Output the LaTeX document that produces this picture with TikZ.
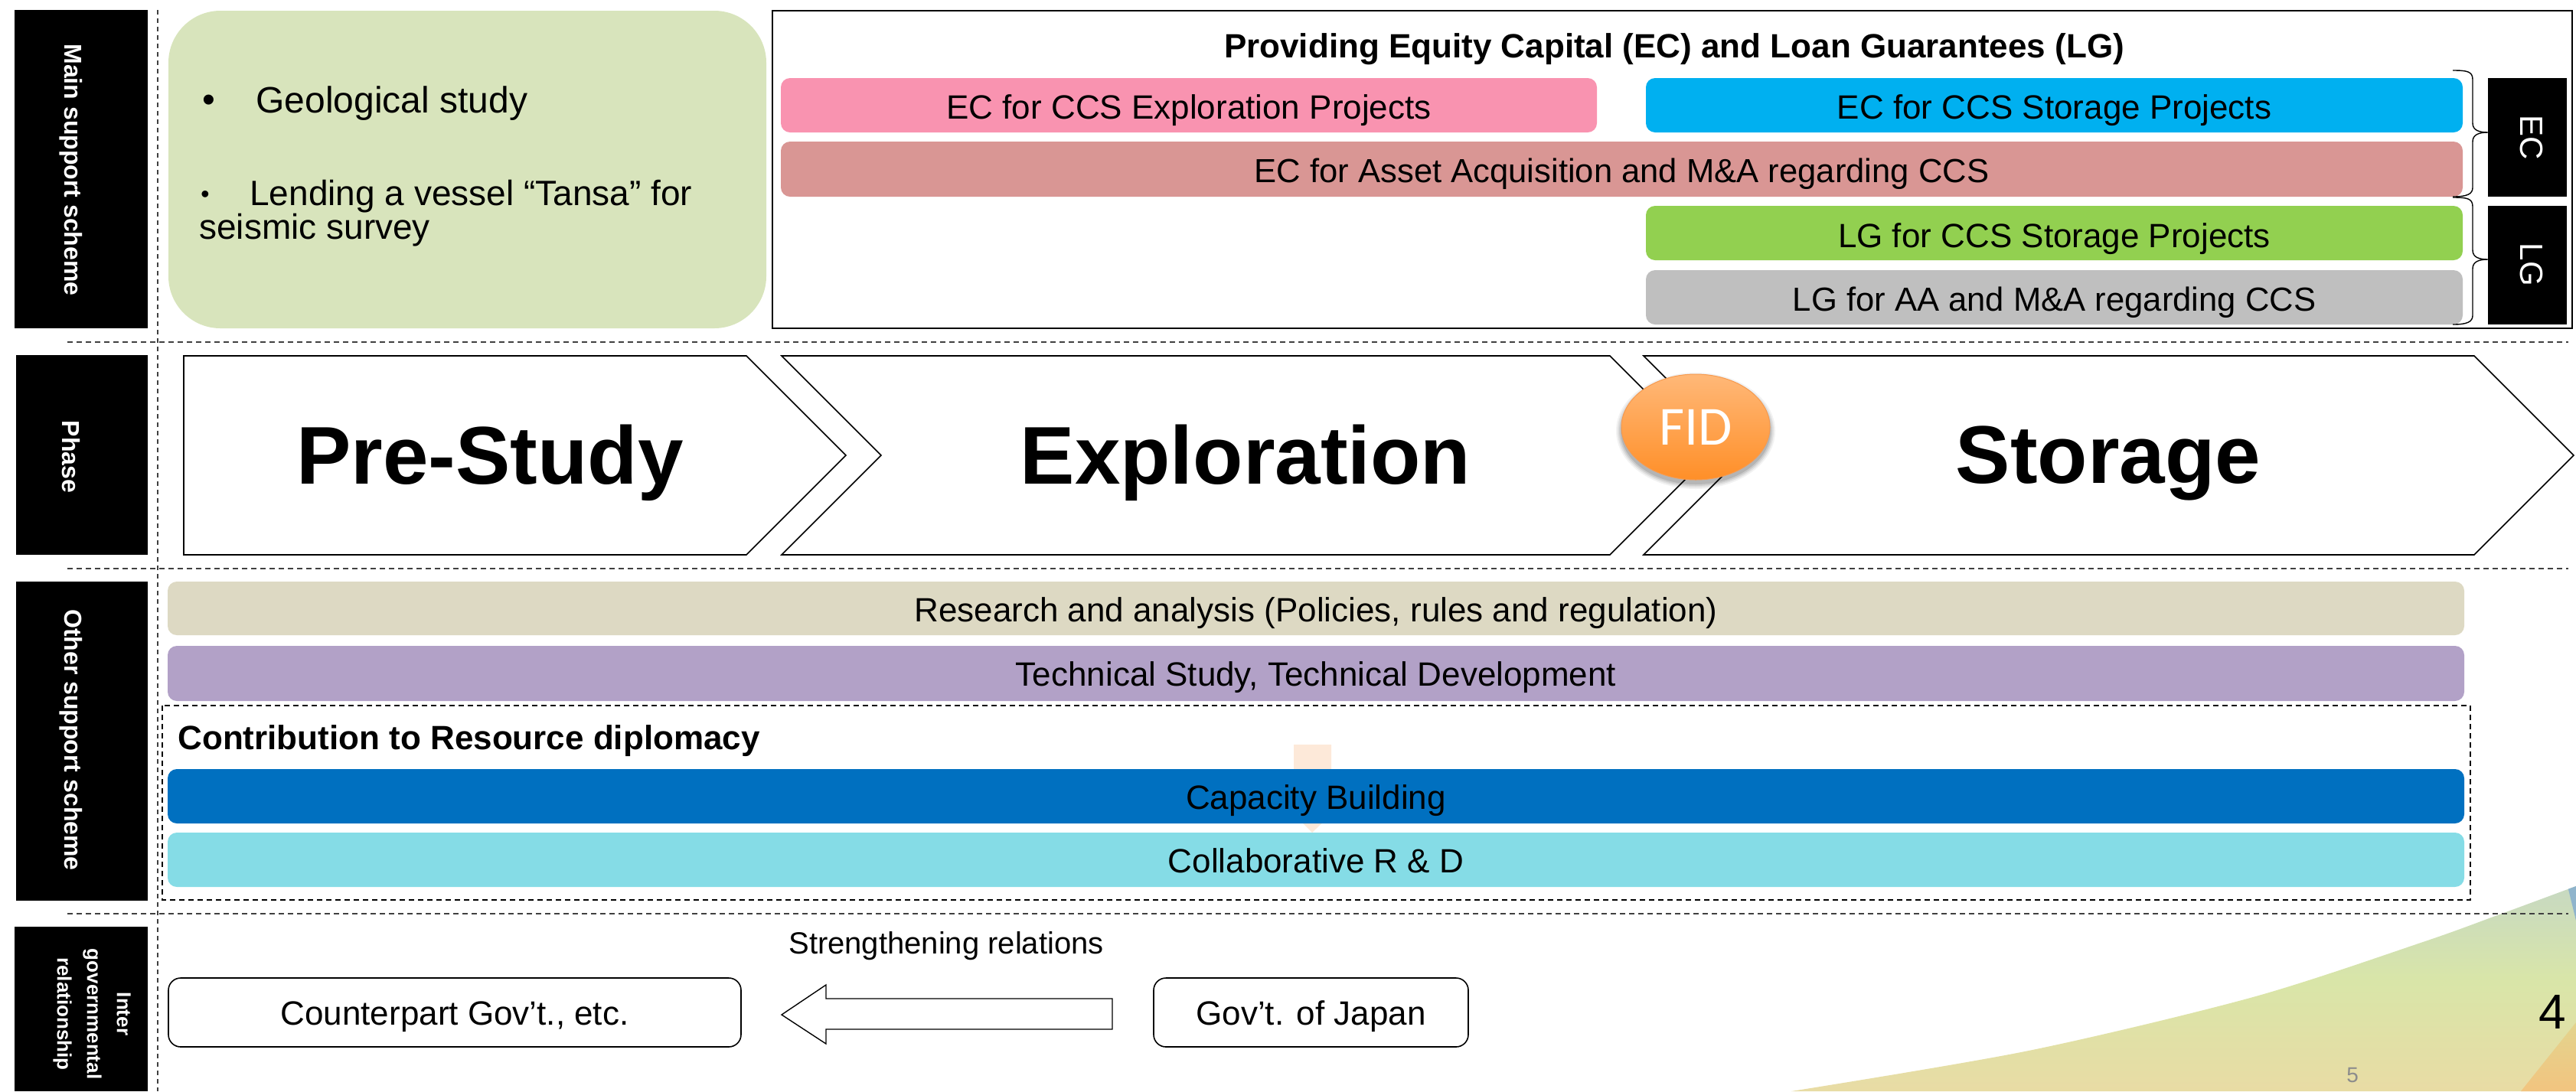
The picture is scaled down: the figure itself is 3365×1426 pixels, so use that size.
\documentclass[tikz,border=0pt]{standalone}
\usepackage{fontspec}
\setmainfont{Liberation Sans}
\newfontfamily\fidfont{Carlito}
\usetikzlibrary{shapes.geometric,calc}
\definecolor{panelgreen}{HTML}{D8E4BC}
\definecolor{barpink}{HTML}{F993B0}
\definecolor{barblue}{HTML}{00B0F0}
\definecolor{barrose}{HTML}{D99694}
\definecolor{bargreen}{HTML}{92D050}
\definecolor{bargrey}{HTML}{BFBFBF}
\definecolor{barbeige}{HTML}{DDD9C3}
\definecolor{barpurple}{HTML}{B2A1C7}
\definecolor{bardeep}{HTML}{0070C0}
\definecolor{barteal}{HTML}{85DCE6}
\definecolor{faintorange}{HTML}{FDE9D9}
\definecolor{fidtop}{HTML}{FFB878}
\definecolor{fidbottom}{HTML}{FF8F28}
\definecolor{fidline}{HTML}{F79A4E}
\definecolor{dashgrey}{HTML}{404040}
\definecolor{streakblue}{HTML}{8FB4CC}
\definecolor{streaktop}{HTML}{E3D48E}
\definecolor{streakbottom}{HTML}{F2C47F}
\pgfdeclareverticalshading{swooshshade}{100bp}{
 rgb(0bp)=(0.96,0.82,0.62);
 rgb(17bp)=(0.93,0.85,0.64);
 rgb(52bp)=(0.85,0.90,0.66);
 rgb(75bp)=(0.78,0.85,0.76);
 rgb(100bp)=(0.64,0.77,0.83)}
\newcommand{\pxbox}[7]{%
 \pgfmathsetmacro\pxcx{(#2+#4)/2}\pgfmathsetmacro\pxcy{(#3+#5)/2}%
 \pgfmathsetmacro\pxw{(#4-#2)/2}\pgfmathsetmacro\pxh{(#5-#3)/2}%
 \node[#6,minimum width=\pxw pt,minimum height=\pxh pt] (#1) at (\pxcx,\pxcy) {#7};}
\tikzset{
 solidbox/.style={inner sep=0pt,outer sep=0pt,draw=none},
 sidebar/.style={solidbox,fill=black},
 sidelabel/.style={text=white,rotate=-90,font=\fontsize{16}{16}\selectfont\bfseries,inner sep=0pt},
 taglabel/.style={text=white,rotate=-90,font=\fontsize{21}{21}\selectfont,inner sep=0pt},
 colourbar/.style={solidbox,rounded corners=6pt,font=\fontsize{22}{22}\selectfont,text height=17.5pt,text depth=0pt},
 lowerbar/.style={colourbar,text height=16.5pt},
 tightbar/.style={colourbar,font=\fontsize{21.8}{22}\selectfont},
 govbox/.style={solidbox,draw=black,line width=.8pt,rounded corners=8pt,font=\fontsize{22}{22}\selectfont,text height=16.5pt,text depth=0pt},
 chevron/.style={draw=black,line width=.8pt,fill=white},
 phaselabel/.style={font=\fontsize{53.5}{53.5}\selectfont\bfseries,inner sep=0pt},
 vdash/.style={draw=dashgrey,line width=1pt,dash pattern=on 3pt off 2.5pt},
 hdash/.style={draw=dashgrey,line width=1pt,dash pattern=on 3.5pt off 2.5pt},
 boxdash/.style={draw=black,line width=.7pt,dash pattern=on 3.5pt off 2.5pt},
 paneltext/.style={anchor=base west,inner sep=0pt,font=\fontsize{24}{24}\selectfont},
 smallpaneltext/.style={paneltext,font=\fontsize{23}{23}\selectfont},
 bracepath/.style={draw=black,line width=.7pt},
 blockarrow/.style={draw=black,line width=.7pt,fill=white},
}
\begin{document}
\begin{tikzpicture}[x=0.5pt,y=-0.5pt]
\useasboundingbox (0,0) rectangle (3365,1426);
% corner swoosh
\begin{scope}
 \clip plot[smooth] coordinates {(2340,1426) (2650,1373) (2943,1303) (3165,1231) (3265,1195) (3365,1158)} -- (3365,1426) -- cycle;
 \shade[shading=swooshshade] (2300,1158) rectangle (3365,1426);
 \fill[streakblue] (3352,1150) -- (3365,1150) -- (3365,1203) -- cycle;
 \shade[top color=streaktop,bottom color=streakbottom] (3365,1336) -- (3365,1426) -- (3293,1426) -- cycle;
\end{scope}
% left column
\pxbox{mainbar}{19}{13}{193}{429}{sidebar}{}
\pxbox{phasebar}{21}{464}{193}{725}{sidebar}{}
\pxbox{otherbar}{21}{760}{193}{1177}{sidebar}{}
\pxbox{interbar}{19}{1211}{193}{1426}{sidebar}{}
\node[sidelabel] (mainlabel) at (93,222) {Main support scheme};
\node[sidelabel] (phaselabeltext) at (93,597) {Phase};
\node[sidelabel] (otherlabel) at (93,967) {Other support scheme};
\node[sidelabel,font=\fontsize{13}{19.5}\selectfont\bfseries,align=center] (interlabel) at (120,1325) {Inter\\governmental\\relationship};
% dividers
\draw[vdash] (206,13) -- (206,1426);
\draw[hdash] (88,447) -- (3355,447);
\draw[hdash] (88,743) -- (3355,743);
\draw[hdash] (88,1194) -- (3355,1194);
% top panels
\pxbox{panel}{220}{14}{1001}{429}{solidbox,fill=panelgreen,rounded corners=34pt}{}
\node[paneltext] (b1) at (264,147) {\raisebox{.02em}{\textbullet}};
\node[paneltext] (t1) at (334,147) {Geological study};
\node[paneltext] (b2) at (262,268) {\fontsize{16}{16}\selectfont\raisebox{.12em}{\textbullet}};
\node[smallpaneltext] (t2) at (326,268) {Lending a vessel “Tansa” for};
\node[smallpaneltext] (t3) at (260,312) {seismic survey};
\pxbox{ecbox}{1009}{14}{3360}{429}{solidbox,draw=black,line width=.8pt,fill=white}{}
\node[inner sep=0pt,font=\fontsize{22}{22}\selectfont\bfseries] (title) at (2187,64) {Providing Equity Capital (EC) and Loan Guarantees (LG)};
\pxbox{ecexp}{1020}{102}{2086}{173}{colourbar,fill=barpink}{EC for CCS Exploration Projects}
\pxbox{ecsto}{2150}{102}{3217}{173}{colourbar,fill=barblue}{EC for CCS Storage Projects}
\pxbox{ecma}{1020}{185}{3217}{257}{tightbar,fill=barrose}{EC for Asset Acquisition and M\&A regarding CCS}
\pxbox{lgsto}{2150}{269}{3217}{340}{colourbar,text height=18.5pt,fill=bargreen}{LG for CCS Storage Projects}
\pxbox{lgaa}{2150}{353}{3217}{424}{tightbar,fill=bargrey}{LG for AA and M\&A regarding CCS}
\draw[bracepath] (3204,92) .. controls (3222,92) and (3230,93) .. (3230,104) -- (3230,161) .. controls (3230,170) and (3238,173) .. (3250,173) .. controls (3238,173) and (3230,176) .. (3230,185) -- (3230,245) .. controls (3230,254) and (3222,257) .. (3204,257);
\draw[bracepath] (3204,258) .. controls (3222,258) and (3230,259) .. (3230,270) -- (3230,327) .. controls (3230,336) and (3238,339) .. (3250,339) .. controls (3238,339) and (3230,342) .. (3230,351) -- (3230,412) .. controls (3230,421) and (3222,424) .. (3204,424);
\pxbox{ectag}{3250}{102}{3353}{257}{sidebar}{}
\pxbox{lgtag}{3250}{269}{3353}{424}{sidebar}{}
\node[taglabel] (ectext) at (3307,180) {EC};
\node[taglabel] (lgtext) at (3307,346) {LG};
% phases
\draw[chevron] (240,465) -- (975,465) -- (1105,595) -- (975,725) -- (240,725) -- cycle;
\draw[chevron] (1021,465) -- (2103,465) -- (2233,595) -- (2103,725) -- (1021,725) -- (1151,595) -- cycle;
\draw[chevron] (2147,465) -- (3232,465) -- (3362,595) -- (3232,725) -- (2147,725) -- (2277,595) -- cycle;
\node[phaselabel] (prestudy) at (640,605) {Pre-Study};
\node[phaselabel] (exploration) at (1627,605) {Exploration};
\node[phaselabel] (storage) at (2754,605) {Storage};
\foreach \g/\o in {7/.05,5/.07,3/.09,1/.11}
 \fill[black,opacity=\o] (2215,563) ellipse ({97+\g} and {69+\g});
\node[ellipse,inner sep=0pt,minimum width=97pt,minimum height=69pt,top color=fidtop,bottom color=fidbottom,draw=fidline,line width=.5pt,text=white,font=\fontsize{36}{36}\fidfont\selectfont] (fid) at (2215,558) {FID};
% other support
\fill[faintorange] (1690,973) -- (1739,973) -- (1739,1064) -- (1714,1088) -- (1690,1064) -- cycle;
\pxbox{research}{219}{760}{3219}{830}{colourbar,fill=barbeige}{Research and analysis (Policies, rules and regulation)}
\pxbox{technical}{219}{844}{3219}{916}{lowerbar,fill=barpurple}{Technical Study, Technical Development}
\draw[boxdash] (212,922) rectangle (3227,1176);
\node[anchor=base west,inner sep=0pt,font=\fontsize{22}{22}\selectfont\bfseries] (contrib) at (232,979) {Contribution to Resource diplomacy};
\pxbox{capacity}{219}{1005}{3219}{1076}{lowerbar,fill=bardeep}{Capacity Building}
\pxbox{collab}{219}{1088}{3219}{1159}{lowerbar,fill=barteal}{Collaborative R \& D}
% governments
\pxbox{counter}{220}{1278}{968}{1368}{govbox,fill=white}{Counterpart Gov’t., etc.}
\pxbox{gov}{1507}{1278}{1918}{1368}{govbox,fill=white}{Gov’t. of Japan}
\draw[blockarrow] ($(gov.west)+(-54,-18)$) -- ($(counter.east)+(111,-18)$) -- ($(counter.east)+(111,-36)$) -- ($(counter.east)+(53,3)$) -- ($(counter.east)+(111,41)$) -- ($(counter.east)+(111,22)$) -- ($(gov.west)+(-54,22)$) -- cycle;
\node[inner sep=0pt,font=\fontsize{20}{20}\selectfont] (strength) at (1236,1236) {Strengthening relations};
\node[inner sep=0pt,font=\fontsize{32}{32}\selectfont] (pagefour) at (3334,1322) {4};
\node[inner sep=0pt,text=black!45,font=\fontsize{14}{14}\selectfont] (pagefive) at (3073,1405) {5};
\end{tikzpicture}
\end{document}
